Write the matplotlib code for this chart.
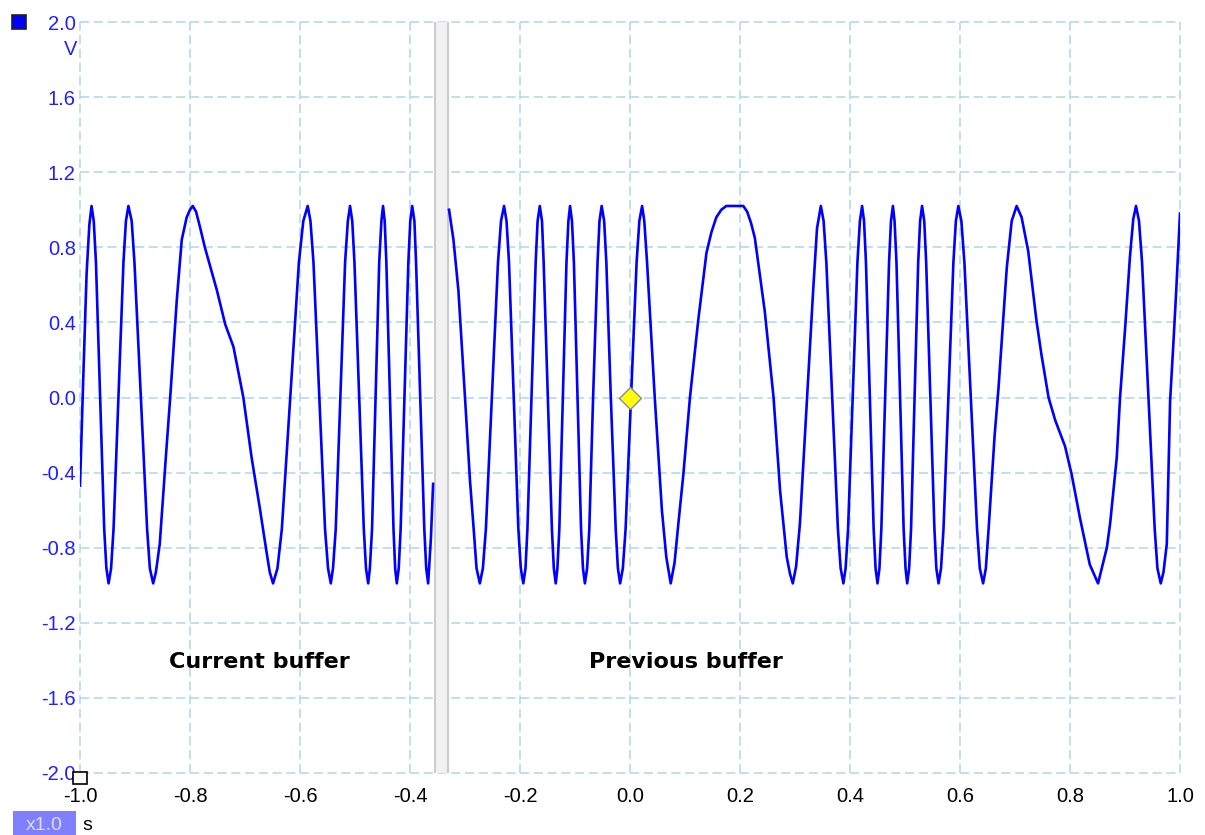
import matplotlib
matplotlib.use('Agg')
import matplotlib.pyplot as plt
from matplotlib.patches import Rectangle

# current buffer (left of the gap), time in s, voltage in V
cur_t = [-1.000, -0.994, -0.988, -0.983, -0.979,
         -0.975, -0.971, -0.9635, -0.956, -0.952, -0.948,
         -0.9435, -0.939, -0.930, -0.921, -0.9165, -0.912,
         -0.906, -0.901, -0.8895, -0.878, -0.873, -0.867,
         -0.862, -0.855, -0.843, -0.836, -0.824, -0.815, -0.806, -0.800, -0.795,
         -0.789, -0.782, -0.773, -0.751, -0.736, -0.721, -0.703, -0.688, -0.673, -0.661, -0.655, -0.649,
         -0.641, -0.633, -0.6175, -0.602, -0.594, -0.586,
         -0.581, -0.5755, -0.565, -0.5545, -0.549, -0.544,
         -0.540, -0.535, -0.5265, -0.518, -0.513, -0.509,
         -0.505, -0.501, -0.4925, -0.484, -0.480, -0.476,
         -0.473, -0.469, -0.4625, -0.456, -0.452, -0.449,
         -0.446, -0.443, -0.4365, -0.430, -0.427, -0.424,
         -0.4205, -0.417, -0.410, -0.403, -0.3995, -0.396,
         -0.392, -0.389, -0.3815, -0.374, -0.3705, -0.367,
         -0.362, -0.358]
cur_v = [-0.47, 0.11, 0.66, 0.92, 1.02,
         0.94, 0.72, 0.01, -0.70, -0.91, -0.99,
         -0.91, -0.70, 0.01, 0.72, 0.94, 1.02,
         0.94, 0.72, 0.01, -0.70, -0.91, -0.99,
         -0.93, -0.78, -0.28, 0.00, 0.52, 0.84, 0.96, 1.00, 1.02,
         0.99, 0.91, 0.80, 0.57, 0.39, 0.27, 0.00, -0.32, -0.59, -0.82, -0.93, -0.99,
         -0.91, -0.70, 0.01, 0.72, 0.94, 1.02,
         0.94, 0.72, 0.01, -0.70, -0.91, -0.99,
         -0.91, -0.70, 0.01, 0.72, 0.94, 1.02,
         0.94, 0.72, 0.01, -0.70, -0.91, -0.99,
         -0.91, -0.70, 0.01, 0.72, 0.94, 1.02,
         0.94, 0.72, 0.01, -0.70, -0.91, -0.99,
         -0.91, -0.70, 0.01, 0.72, 0.94, 1.02,
         0.94, 0.72, 0.01, -0.70, -0.91, -0.99,
         -0.75, -0.46]

# previous buffer (right of the gap)
prev_t = [-0.329, -0.321, -0.312, -0.300, -0.291, -0.285, -0.279, -0.273,
          -0.2675, -0.262, -0.251, -0.240, -0.2345, -0.229,
          -0.2245, -0.220, -0.2115, -0.203, -0.1985, -0.194,
          -0.190, -0.1865, -0.179, -0.1715, -0.168, -0.164,
          -0.160, -0.157, -0.1495, -0.142, -0.1385, -0.135,
          -0.132, -0.1285, -0.122, -0.1155, -0.112, -0.109,
          -0.1055, -0.102, -0.0955, -0.089, -0.0855, -0.082,
          -0.078, -0.074, -0.067, -0.059, -0.0555, -0.0515,
          -0.047, -0.043, -0.035, -0.026, -0.022, -0.018,
          -0.013, -0.008, 0.002, 0.012, 0.017, 0.022,
          0.026, 0.031, 0.045, 0.058, 0.066, 0.074,
          0.081, 0.088, 0.097, 0.109, 0.124, 0.139, 0.148, 0.157, 0.166, 0.175, 0.206,
          0.213, 0.220, 0.227, 0.245, 0.261, 0.273, 0.285, 0.291, 0.296,
          0.302, 0.309, 0.321, 0.333, 0.340, 0.347,
          0.352, 0.357, 0.3675, 0.378, 0.383, 0.388,
          0.392, 0.3965, 0.405, 0.4135, 0.418, 0.422,
          0.4255, 0.429, 0.436, 0.443, 0.4465, 0.450,
          0.4535, 0.457, 0.464, 0.471, 0.4745, 0.478,
          0.481, 0.4845, 0.491, 0.4975, 0.501, 0.504,
          0.5075, 0.511, 0.5175, 0.524, 0.5275, 0.531,
          0.535, 0.5385, 0.546, 0.5535, 0.557, 0.561,
          0.5655, 0.570, 0.579, 0.588, 0.5925, 0.597,
          0.6025, 0.608, 0.6195, 0.631, 0.636, 0.642,
          0.647, 0.652, 0.663, 0.670, 0.678, 0.685, 0.694, 0.703,
          0.712, 0.724, 0.739, 0.748, 0.761, 0.773, 0.791, 0.803, 0.818, 0.836, 0.851,
          0.867, 0.873, 0.885, 0.891, 0.900, 0.909, 0.915, 0.920,
          0.9255, 0.931, 0.9425, 0.954, 0.959, 0.965,
          0.970, 0.976, 0.982, 0.988, 0.9935, 0.997, 1.000]
prev_v = [1.00, 0.84, 0.57, 0.00, -0.44, -0.67, -0.91, -0.99,
          -0.91, -0.70, 0.01, 0.72, 0.94, 1.02,
          0.94, 0.72, 0.01, -0.70, -0.91, -0.99,
          -0.91, -0.70, 0.01, 0.72, 0.94, 1.02,
          0.94, 0.72, 0.01, -0.70, -0.91, -0.99,
          -0.91, -0.70, 0.01, 0.72, 0.94, 1.02,
          0.94, 0.72, 0.01, -0.70, -0.91, -0.99,
          -0.91, -0.70, 0.01, 0.72, 0.94, 1.02,
          0.94, 0.72, 0.01, -0.70, -0.91, -0.99,
          -0.91, -0.70, 0.01, 0.72, 0.94, 1.02,
          0.94, 0.72, 0.00, -0.60, -0.85, -0.99,
          -0.88, -0.67, -0.41, 0.00, 0.41, 0.77, 0.88, 0.96, 1.00, 1.02, 1.02,
          0.99, 0.93, 0.85, 0.46, 0.00, -0.50, -0.85, -0.94, -0.99,
          -0.90, -0.67, -0.05, 0.57, 0.90, 1.02,
          0.94, 0.72, 0.01, -0.70, -0.91, -0.99,
          -0.91, -0.70, 0.01, 0.72, 0.94, 1.02,
          0.94, 0.72, 0.01, -0.70, -0.91, -0.99,
          -0.91, -0.70, 0.01, 0.72, 0.94, 1.02,
          0.94, 0.72, 0.01, -0.70, -0.91, -0.99,
          -0.91, -0.70, 0.01, 0.72, 0.94, 1.02,
          0.94, 0.72, 0.01, -0.70, -0.91, -0.99,
          -0.91, -0.70, 0.01, 0.72, 0.94, 1.02,
          0.94, 0.72, 0.01, -0.70, -0.91, -0.99,
          -0.91, -0.70, -0.20, 0.05, 0.39, 0.69, 0.94, 1.02,
          0.96, 0.78, 0.41, 0.23, 0.00, -0.12, -0.26, -0.41, -0.64, -0.89, -0.99,
          -0.80, -0.67, -0.32, 0.00, 0.36, 0.75, 0.95, 1.02,
          0.94, 0.72, 0.01, -0.70, -0.91, -0.99,
          -0.93, -0.78, -0.02, 0.29, 0.59, 0.80, 0.98]

trigger_t = 0.0
trigger_v = 0.0
gap_start = -0.3545
gap_end = -0.331

x_ticks = [-1.0, -0.8, -0.6, -0.4, -0.2, 0.0, 0.2, 0.4, 0.6, 0.8, 1.0]
x_labels = ['-1.0', '-0.8', '-0.6', '-0.4', '-0.2', '0.0', '0.2', '0.4', '0.6', '0.8', '1.0']
y_ticks = [2.0, 1.6, 1.2, 0.8, 0.4, 0.0, -0.4, -0.8, -1.2, -1.6, -2.0]
y_labels = ['2.0', '1.6', '1.2', '0.8', '0.4', '0.0', '-0.4', '-0.8', '-1.2', '-1.6', '-2.0']

W, H = 1205, 835
fig = plt.figure(figsize=(W / 100, H / 100), dpi=100)
ax = fig.add_axes([80 / W, 62 / H, 1100 / W, 751 / H])

ax.set_xlim(-1, 1)
ax.set_ylim(-2, 2)
for s in ax.spines.values():
    s.set_visible(False)

ax.set_xticks(x_ticks)
ax.set_xticklabels(x_labels, fontfamily='Liberation Sans', fontsize=14.5)
ax.set_yticks(y_ticks)
ax.set_yticklabels(y_labels, fontfamily='Liberation Sans', fontsize=14.5)
ax.tick_params(axis='x', length=0, pad=10, labelcolor='black')
ax.tick_params(axis='y', length=0, pad=3, labelcolor='#1f1fff')
ax.grid(True, color='#add8e6', linestyle=(0, (6, 3)), linewidth=1.1, clip_on=False)
ax.set_axisbelow(True)

# gap between the two buffers
ax.axvspan(gap_start, gap_end, color='#f1f1f1', zorder=2)
ax.axvline(gap_start, color='#c8c8c8', lw=1.3, zorder=2)
ax.axvline(gap_end, color='#c8c8c8', lw=1.3, zorder=2)

ax.plot(cur_t, cur_v, color='#0000ff', lw=1.9, zorder=3)
ax.plot(prev_t, prev_v, color='#0000ff', lw=1.9, zorder=3)
ax.plot([trigger_t], [trigger_v], marker='D', ms=11, mfc='#ffff00', mec='#8a8aa8', mew=1, zorder=4)

ax.text(-0.674, -1.44, 'Current buffer', ha='center', va='baseline',
        fontsize=16, fontweight='bold', family='DejaVu Sans', zorder=5)
ax.text(0.102, -1.44, 'Previous buffer', ha='center', va='baseline',
        fontsize=16, fontweight='bold', family='DejaVu Sans', zorder=5)

# channel marker, unit and scale badge
fig.patches.append(Rectangle((12 / W, 1 - 28.5 / H), 13.5 / W, 14 / H, transform=fig.transFigure,
                             facecolor='#0000ff', edgecolor='#202020', lw=1.2))
fig.text(77 / W, 1 - 49.5 / H, 'V', ha='right', va='center', color='#1f1fff',
         fontsize=14.5, family='Liberation Sans')
fig.patches.append(Rectangle((73 / W, 1 - 784 / H), 14 / W, 12 / H, transform=fig.transFigure,
                             facecolor='white', edgecolor='black', lw=1.2, zorder=6))
fig.patches.append(Rectangle((12.5 / W, 0), 63 / W, 24.5 / H, transform=fig.transFigure,
                             facecolor='#8080ff', edgecolor='none'))
fig.text(44 / W, 1 - 825 / H, 'x1.0', ha='center', va='center', color='#dcdcff',
         fontsize=14, family='Liberation Sans')
fig.text(82 / W, 1 - 826 / H, 's', ha='left', va='center', color='black',
         fontsize=14, family='Liberation Sans')

fig.savefig('out.png', dpi=100)
